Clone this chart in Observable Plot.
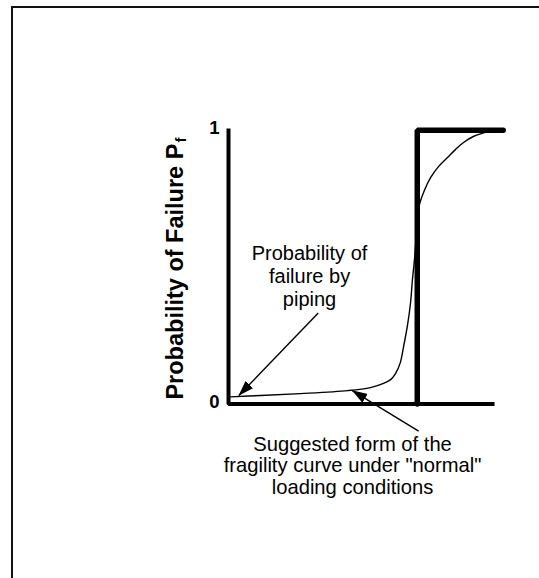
<!DOCTYPE html>
<html><head><meta charset="utf-8">
<script src="https://cdn.jsdelivr.net/npm/d3@7"></script>
<script src="https://cdn.jsdelivr.net/npm/@observablehq/plot@0.6"></script>
<style>
html,body{margin:0;padding:0;background:#fff;}
#wrap{position:relative;width:539px;height:578px;overflow:hidden;background:#fff;}
#frame{position:absolute;left:11px;top:6px;width:700px;height:700px;border-left:2px solid #111;border-top:2px solid #111;pointer-events:none;}
#chart svg{display:block;}
</style></head><body>
<div id="wrap"><div id="chart"></div><div id="frame"></div></div>
<script>
// ---- data ----
// suggested fragility curve ("normal" loading)
const curveX = [0.7, 11.8, 26.5, 43.8, 52.2, 57.0, 59.6, 61.4, 63.2, 64.3, 65.8, 66.9, 67.6, 68.4, 69.1, 69.9, 72.0, 74.3, 77.2, 80.5, 83.5, 86.4, 90.0, 93.8, 97.0];
const curveY = [0.026, 0.031, 0.038, 0.049, 0.060, 0.075, 0.089, 0.111, 0.152, 0.206, 0.287, 0.367, 0.451, 0.531, 0.625, 0.717, 0.780, 0.827, 0.867, 0.900, 0.930, 0.955, 0.977, 0.990, 0.999];
// step function: probability of failure by piping
const stepX = [69.4, 69.4, 101];
const stepY = [0, 1, 1];
// drawn axes (L shape)
const axisLX = [0, 0, 97.8];
const axisLY = [1.006, 0, 0];
// tick labels
const tickValues = [0, 1];
const tickLabels = ["0", "1"];
// labels
const yLabel = "Probability of Failure P";
const yLabelSub = "f";
const pipingLabel = "Probability of\nfailure by\npiping";
const curveLabel = "Suggested form of the\nfragility curve under \"normal\"\nloading conditions";
// arrows [x1, y1, x2, y2]
const arrowX1 = [33.0, 69.9];
const arrowY1 = [0.332, -0.099];
const arrowX2 = [3.8, 45.5];
const arrowY2 = [0.031, 0.049];

const curve = curveX.map((x, i) => ({x, y: curveY[i]}));
const step = stepX.map((x, i) => ({x, y: stepY[i]}));
const axisL = axisLX.map((x, i) => ({x, y: axisLY[i]}));
const ticks = tickValues.map((v, i) => ({y: v, label: tickLabels[i]}));
const arrows = arrowX1.map((x1, i) => ({x1, y1: arrowY1[i], x2: arrowX2[i], y2: arrowY2[i]}));

function filledArrow(color, context) {
  const doc = (context && context.document) || document;
  const ns = "http://www.w3.org/2000/svg";
  const m = doc.createElementNS(ns, "marker");
  m.setAttribute("viewBox", "-15 -6 16 12");
  m.setAttribute("markerWidth", "16");
  m.setAttribute("markerHeight", "12");
  m.setAttribute("markerUnits", "userSpaceOnUse");
  m.setAttribute("orient", "auto");
  m.setAttribute("refX", "0");
  m.setAttribute("refY", "0");
  const p = doc.createElementNS(ns, "path");
  p.setAttribute("d", "M-15,-5.2L0.5,0L-15,5.2Z");
  p.setAttribute("fill", color);
  p.setAttribute("stroke", "none");
  m.appendChild(p);
  return m;
}

const font = "'Liberation Sans', Arial, Helvetica, sans-serif";

const chart = Plot.plot({
  width: 539,
  height: 578,
  marginLeft: 228,
  marginRight: 39,
  marginTop: 129.7,
  marginBottom: 174.5,
  x: {domain: [0, 100], axis: null},
  y: {domain: [0, 1], axis: null},
  style: {fontFamily: font, background: "transparent", overflow: "visible"},
  marks: [
    Plot.line(curve, {x: "x", y: "y", curve: "catmull-rom", stroke: "black", strokeWidth: 1.4}),
    Plot.line(axisL, {x: "x", y: "y", stroke: "black", strokeWidth: 4, strokeLinejoin: "miter", strokeLinecap: "butt"}),
    Plot.line(step, {x: "x", y: "y", stroke: "black", strokeWidth: 5.5, strokeLinejoin: "miter", strokeLinecap: "round"}),
    Plot.link(arrows, {x1: "x1", y1: "y1", x2: "x2", y2: "y2", stroke: "black", strokeWidth: 1.4, markerEnd: filledArrow}),
    Plot.text(ticks, {x: () => -5.2, y: "y", text: "label", fontSize: 18.5, fontWeight: "bold", fill: "black", dy: -2}),
    Plot.text([yLabel], {x: () => -19.5, y: () => 0.951, text: d => d, rotate: -90, textAnchor: "end", fontSize: 23.5, fontWeight: "bold", fill: "black"}),
    Plot.text([yLabelSub], {x: () => -19.5, y: () => 0.951, text: d => d, rotate: -90, textAnchor: "start", fontSize: 15, fontWeight: "bold", fill: "black", dx: 6, dy: -1}),
    Plot.text([pipingLabel], {x: () => 29.8, y: () => 0.469, text: d => d, fontSize: 20, lineHeight: 1.15, fill: "black"}),
    Plot.text([curveLabel], {x: () => 45.6, y: () => -0.224, text: d => d, fontSize: 20.2, lineHeight: 1.08, fill: "black"})
  ]
});
document.getElementById("chart").appendChild(chart);
</script>
</body></html>
